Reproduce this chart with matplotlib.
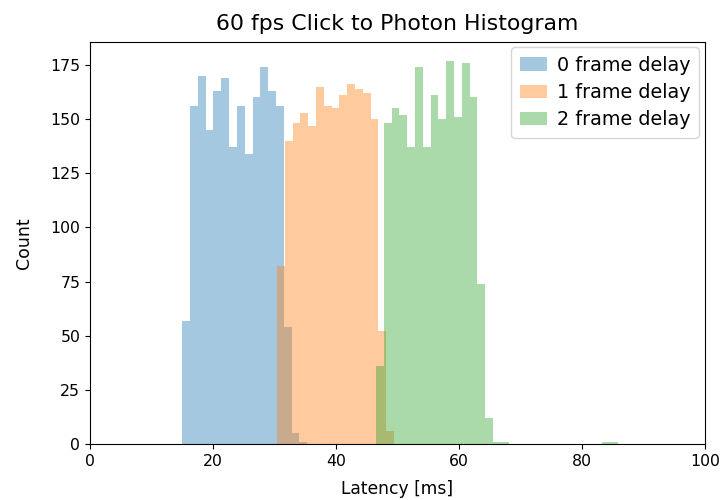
import numpy as np
import matplotlib
matplotlib.use("Agg")
import matplotlib.pyplot as plt

# bin counts, one list per delay setting
BIN_WIDTH = 1.27  # ms
labels = ["0 frame delay", "1 frame delay", "2 frame delay"]
starts = [15.0, 30.4, 46.5]  # ms, left edge of first bin
counts_0 = [57, 156, 170, 145, 163, 169, 137, 156, 134, 160, 174, 163, 156, 54, 5, 1]
counts_1 = [82, 140, 148, 153, 147, 165, 156, 155, 161, 166, 164, 162, 150, 52, 6]
counts_2 = [36, 148, 155, 152, 137, 174, 137, 161, 150, 177, 151, 176, 160, 74, 12, 1, 1,
            0, 0, 0, 0, 0, 0, 0, 0, 0, 0, 0, 0, 1, 1]
all_counts = [counts_0, counts_1, counts_2]

plt.rcParams["font.size"] = 11.3

fig = plt.figure(figsize=(7.2, 5), dpi=100)
ax = fig.add_axes([0.125, 0.112, 0.854, 0.805])

for start, counts, label in zip(starts, all_counts, labels):
    counts = np.asarray(counts, dtype=float)
    edges = start + BIN_WIDTH * np.arange(len(counts) + 1)
    ax.hist(edges[:-1], bins=edges, weights=counts, alpha=0.4, label=label)

ax.set_xlim(0, 100)
ax.set_title("60 fps Click to Photon Histogram", fontsize=15.8, pad=8)
ax.set_xlabel("Latency [ms]", fontsize=12.3, labelpad=8)
ax.set_ylabel("Count", fontsize=12.5, labelpad=12)
ax.legend(loc="upper right", fontsize=13.8, labelspacing=0.42, handlelength=1.45,
          handletextpad=0.5, borderpad=0.45, borderaxespad=0.3)

fig.savefig("out.png", dpi=100)
